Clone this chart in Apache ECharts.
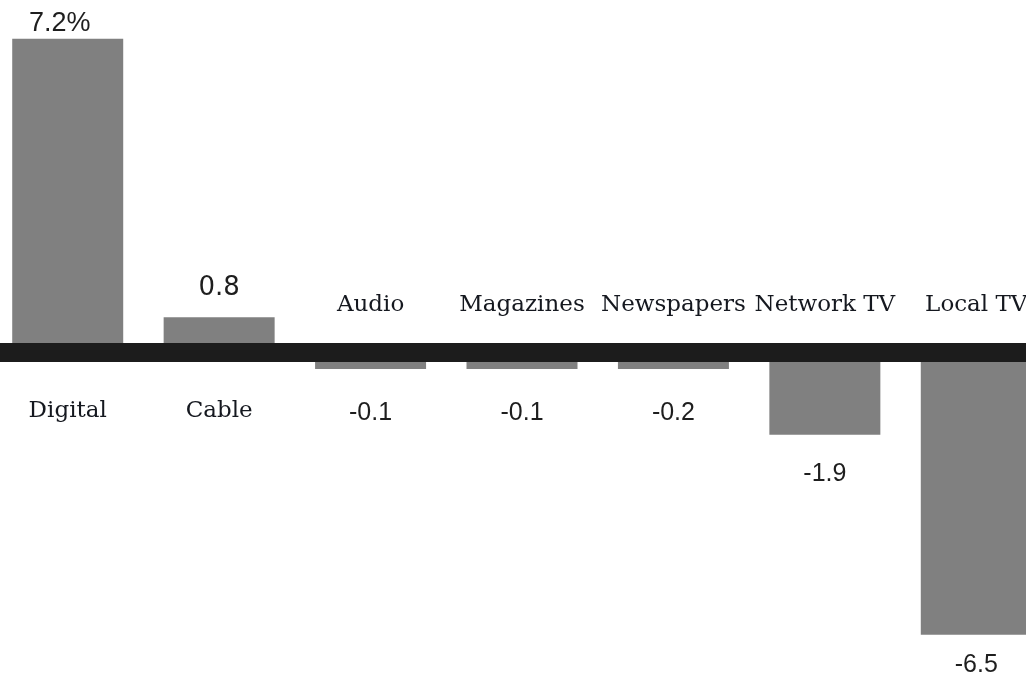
<!DOCTYPE html>
<html>
<head>
<meta charset="utf-8">
<style>
  html, body { margin: 0; padding: 0; background: #ffffff; }
  #chart { width: 1026px; height: 679px; }
</style>
<script src="https://cdn.jsdelivr.net/npm/echarts@6/dist/echarts.min.js"></script>
</head>
<body>
<div id="chart"></div>
<script>
const categories = ['Digital', 'Cable', 'Audio', 'Magazines', 'Newspapers', 'Network TV', 'Local TV'];
const values = [7.2, 0.8, -0.1, -0.1, -0.2, -1.9, -6.5];
const valueLabels = ['7.2%', '0.8', '-0.1', '-0.1', '-0.2', '-1.9', '-6.5'];

const chart = echarts.init(document.getElementById('chart'), null, { renderer: 'canvas' });

function valueLabelStyle(v, i) {
  const base = {
    show: true,
    formatter: valueLabels[i],
    color: '#1e1e1e',
    fontFamily: 'Liberation Sans',
    fontSize: 25
  };
  if (v > 0) {
    base.position = 'top';
    if (i === 0) { base.distance = 2; base.fontSize = 27; base.offset = [-8, 0]; }
    else { base.distance = 16; base.fontFamily = 'DejaVu Sans'; base.fontSize = 26; }
  } else {
    base.position = 'bottom';
    const a = Math.abs(v);
    base.distance = a < 0.5 ? 32 : (a > 5 ? 18 : 27);
  }
  return base;
}

function categoryLabelStyle(v, i) {
  return {
    show: true,
    formatter: categories[i],
    position: v > 0 ? 'bottom' : 'top',
    distance: v > 0 ? 48 : 35,
    color: '#15181f',
    opacity: 1,
    fontFamily: 'DejaVu Serif',
    fontSize: 23
  };
}

const option = {
  animation: false,
  backgroundColor: '#ffffff',
  grid: {
    left: -8,
    right: -26,
    top: 4,
    bottom: 22.5,
    containLabel: false,
    outerBoundsMode: 'none'
  },
  xAxis: {
    type: 'category',
    data: categories,
    z: 10,
    axisLine: { show: true, onZero: true, lineStyle: { color: '#1c1c1c', width: 19 } },
    axisTick: { show: false },
    axisLabel: { show: false },
    splitLine: { show: false }
  },
  yAxis: {
    type: 'value',
    min: -7,
    max: 8,
    show: false,
    splitLine: { show: false }
  },
  series: [
    {
      type: 'bar',
      barWidth: 111,
      barMinHeight: 17,
      z: 2,
      itemStyle: { color: '#808080' },
      data: values.map((v, i) => ({ value: v, label: valueLabelStyle(v, i) }))
    },
    {
      type: 'scatter',
      symbolSize: 0,
      z: 3,
      silent: true,
      itemStyle: { opacity: 1 },
      data: values.map((v, i) => ({ value: 0, label: categoryLabelStyle(v, i) }))
    }
  ]
};

chart.setOption(option);
</script>
</body>
</html>
